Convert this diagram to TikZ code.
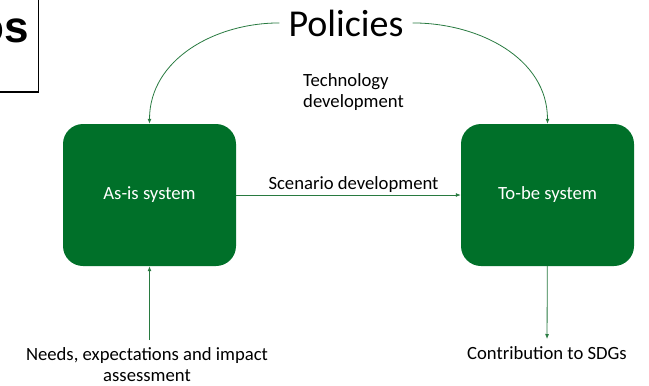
\documentclass[tikz,border=0pt]{standalone}
\usepackage{fontspec}
\setmainfont{Carlito}
\newfontfamily\framefont{Liberation Sans}
\usetikzlibrary{arrows.meta,positioning}
\definecolor{sysgreen}{RGB}{0,112,41}
\definecolor{linkgreen}{RGB}{40,122,64}

\begin{document}
\begin{tikzpicture}[x=1pt,y=1pt,
  sysbox/.style={fill=sysgreen, text=white, rounded corners=20pt, minimum width=173pt, minimum height=142pt, font=\fontsize{18.67}{21}\selectfont},
  flow/.style={draw=linkgreen, line width=0.8pt, -{Latex[length=5pt,width=4pt]}},
  lbl/.style={font=\fontsize{18.67}{21}\selectfont}]

\useasboundingbox (0,0) rectangle (649,-386);

\draw[line width=1.5pt] (38.5,1) |- (-1,-92);
\node[font=\framefont\bfseries\fontsize{44}{44}\selectfont, anchor=base east, inner sep=0pt] (frag) at (29,-42) {os};

\node[font=\fontsize{38}{42}\selectfont, inner xsep=9pt, anchor=base] (pol) at (346,-36) {Policies};
\node[lbl, align=left, anchor=north west, inner sep=0pt] (tech) at (303,-73) {Technology\\development};

\node[sysbox] (asis) at (149.5,-195) {As-is system};
\node[sysbox] (tobe) at (547.5,-195) {To-be system};

\node[lbl, align=center, anchor=north, inner sep=0pt, outer ysep=8pt] (needs) at (147,-340) {Needs, expectations and impact\\assessment};
\node[lbl, anchor=north, inner sep=0pt, outer ysep=8pt] (sdg) at (547,-339) {Contribution to SDGs};

\draw[flow] (pol.west) to[out=180,in=90] (asis.north);
\draw[flow] (pol.east) to[out=0,in=90] (tobe.north);
\draw[flow] (asis) -- node[lbl, above, inner sep=2pt, xshift=5pt] {Scenario development} (tobe);
\draw[flow] (needs.north -| asis.south) -- (asis.south);
\draw[flow] (tobe) -- (sdg);

\end{tikzpicture}
\end{document}
